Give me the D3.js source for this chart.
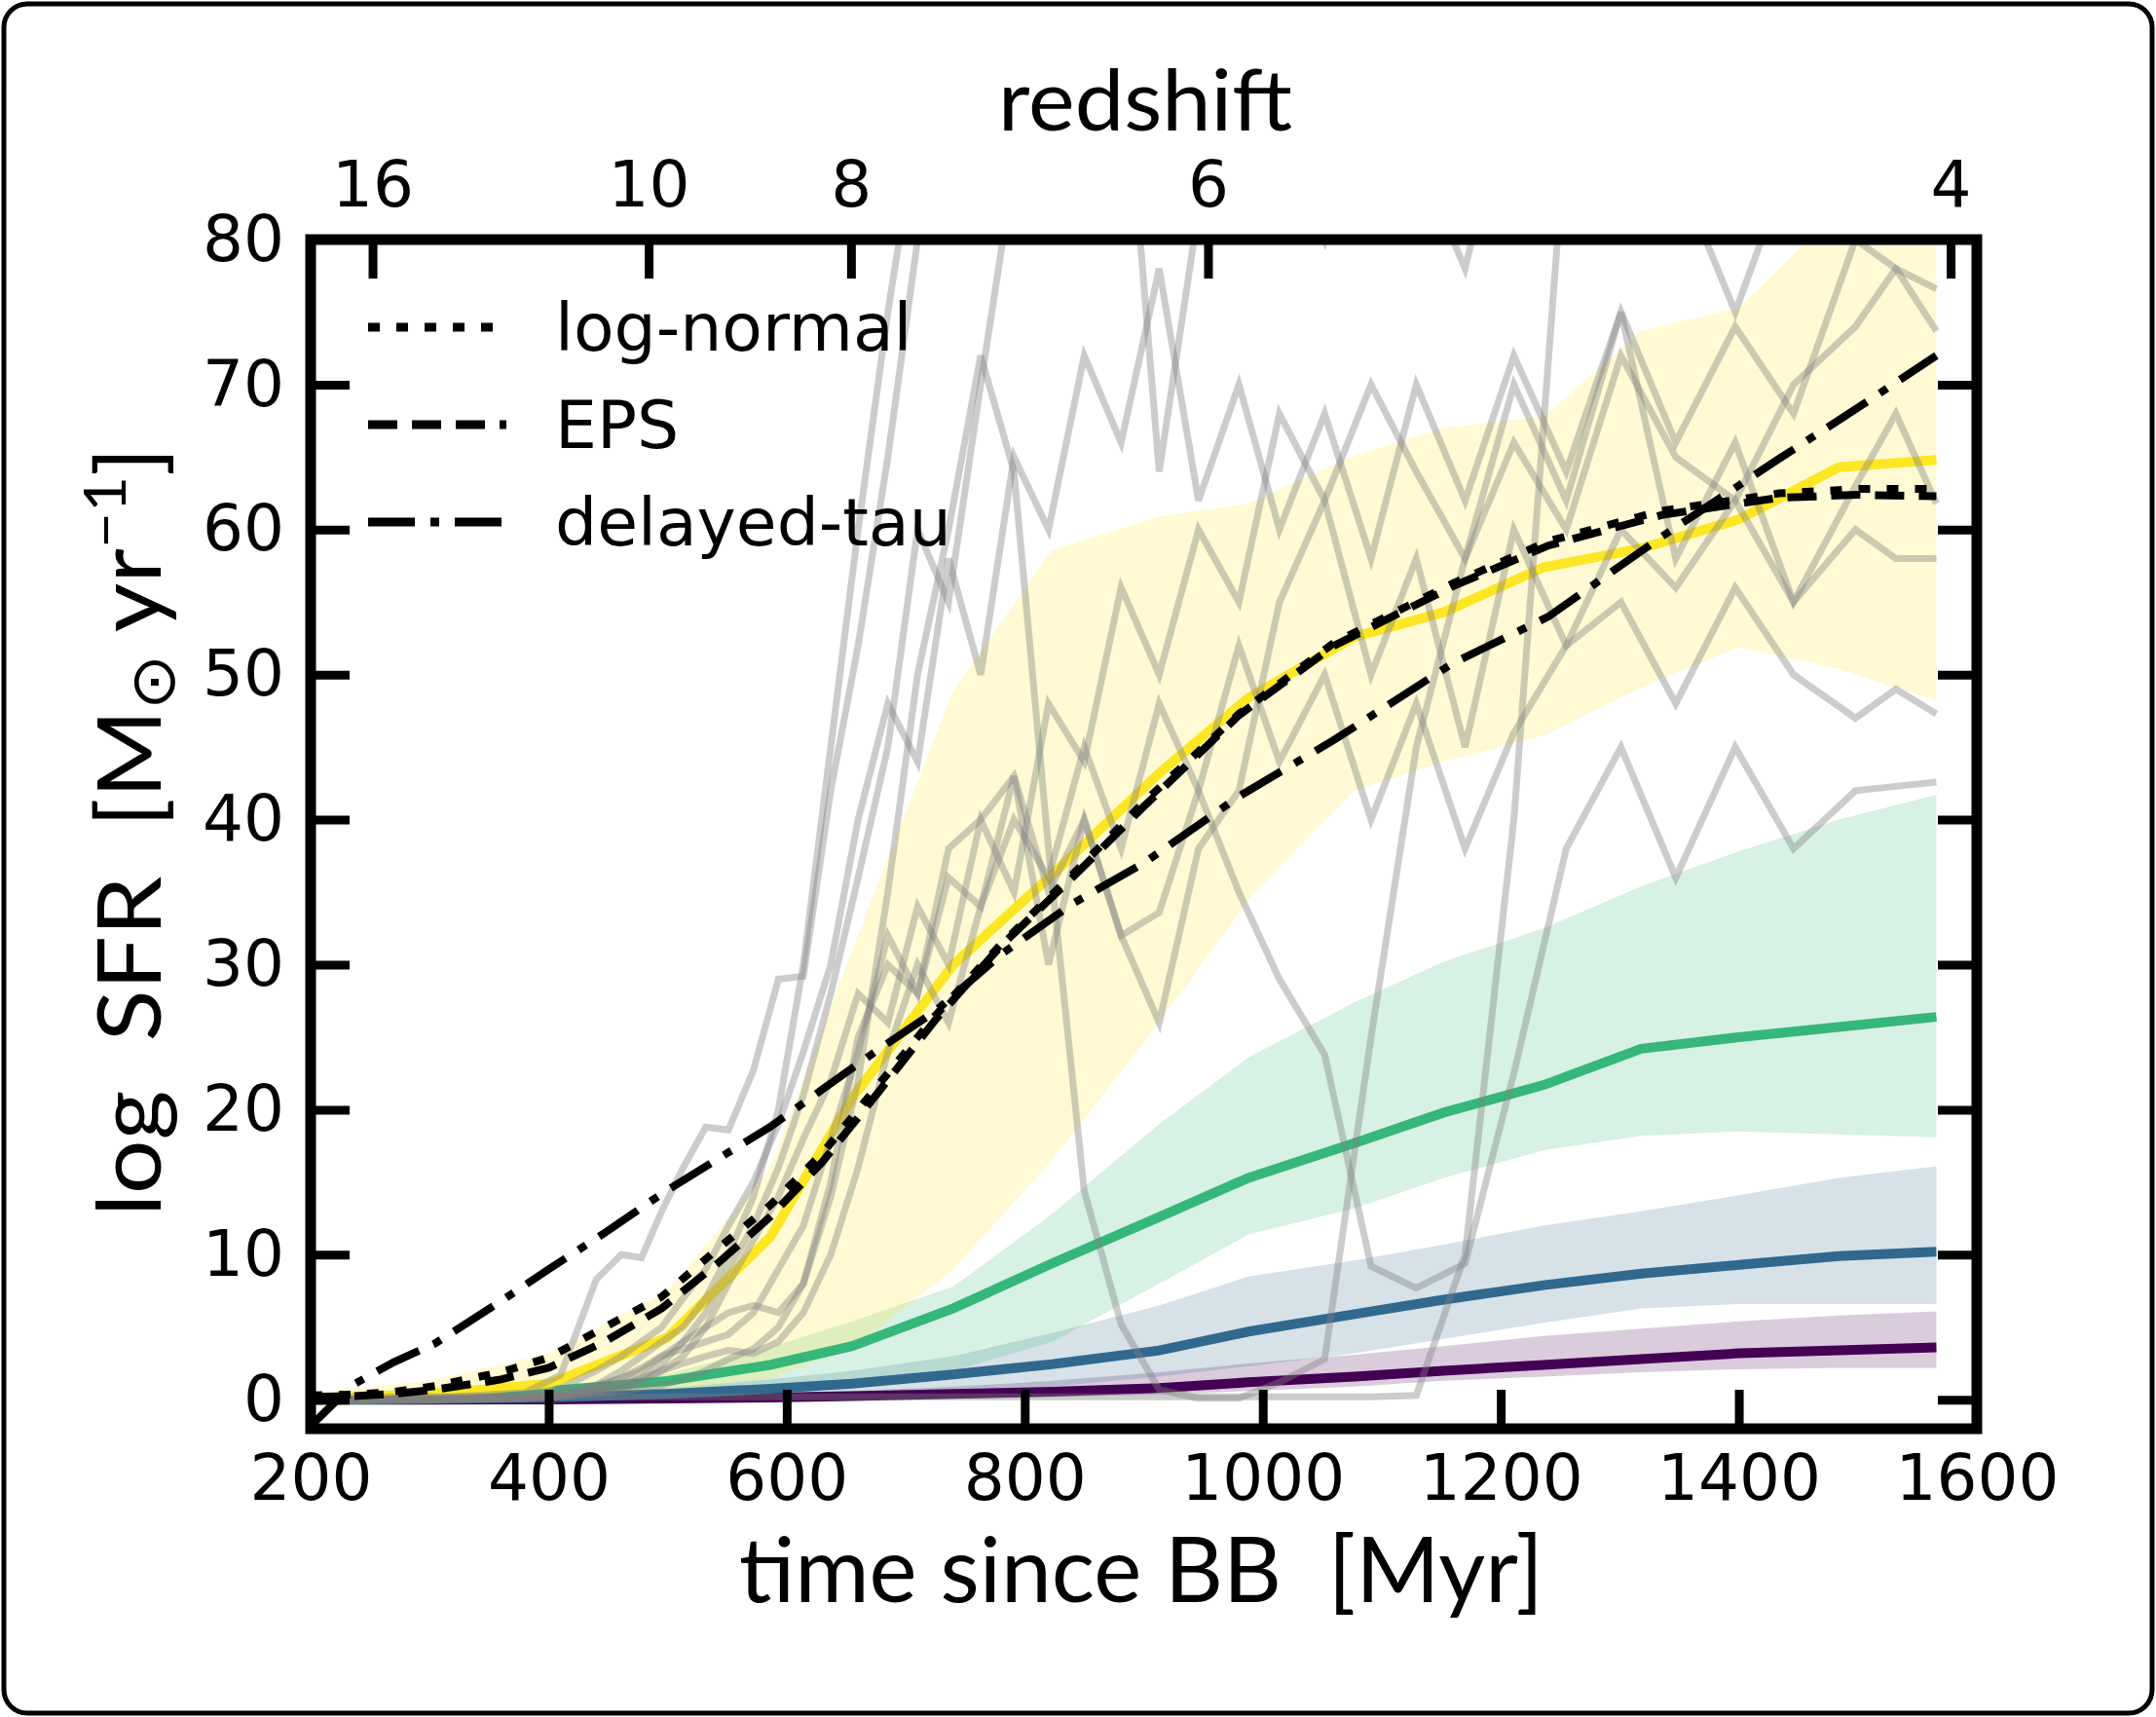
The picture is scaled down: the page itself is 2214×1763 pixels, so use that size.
<!DOCTYPE html>
<html>
<head>
<meta charset="utf-8">
<script src="https://cdn.jsdelivr.net/npm/d3@7"></script>
<style>
  body { margin: 0; background: #fff; }
  text { font-family: "DejaVu Sans", sans-serif; }
  .title { font-family: Lato, "Open Sans", sans-serif; white-space: pre; }
</style>
</head>
<body>
<svg id="chart" width="2214" height="1763"></svg>
<script>
// ---- data ----
// time grid of the population means / bands (Myr since big bang)
const meanTimes = [200, 300, 400, 500, 586, 655, 740, 823, 913, 988, 1077, 1152, 1236, 1318, 1400, 1484, 1566]

const yellowMean = [0.1, 0.4, 1.1, 4.3, 11.2, 20.8, 30.0, 36.2, 43.2, 48.4, 52.6, 54.3, 57.4, 58.7, 60.7, 64.3, 64.8]
const yellowLo   = [0, 0.1, 0.4, 0.6, 1.5, 3.5, 9.0, 16.5, 26.0, 34.5, 42.0, 44.0, 45.8, 49.1, 51.9, 50.4, 48.2]
const yellowHi   = [0.5, 1.3, 3.2, 7.5, 16.0, 31.0, 48.9, 58.6, 60.9, 61.8, 65.1, 67.0, 67.8, 73.7, 75.3, 82, 82]

const greenMean = [0, 0.1, 0.6, 1.3, 2.4, 3.7, 6.3, 9.4, 12.6, 15.3, 17.7, 19.8, 21.7, 24.2, 25.0, 25.7, 26.4]
const greenLo   = [0, 0, 0.1, 0.3, 0.5, 1.0, 2.0, 4.0, 8.0, 11.4, 13.2, 15.3, 17.2, 18.2, 18.5, 18.3, 18.1]
const greenHi   = [0, 0.2, 0.6, 1.8, 3.6, 5.4, 7.8, 12.8, 19.0, 23.6, 27.4, 30.2, 32.5, 35.4, 37.8, 40.0, 41.7]

const blueMean = [0, 0.05, 0.15, 0.4, 0.75, 1.1, 1.75, 2.45, 3.4, 4.7, 5.9, 6.9, 7.9, 8.7, 9.3, 9.9, 10.2]
const blueLo   = [0, 0, 0.05, 0.1, 0.2, 0.3, 0.55, 0.9, 1.6, 2.3, 3.2, 4.2, 5.3, 6.3, 6.6, 6.6, 6.6]
const blueHi   = [0, 0.1, 0.4, 0.8, 1.4, 2.0, 3.0, 4.6, 6.5, 8.5, 9.6, 10.7, 12.0, 13.0, 14.1, 15.3, 16.1]

const purpleMean = [0, 0, 0.02, 0.08, 0.15, 0.25, 0.4, 0.55, 0.8, 1.2, 1.6, 2.0, 2.4, 2.8, 3.2, 3.4, 3.6]
const purpleLo   = [0, 0, 0, 0.02, 0.05, 0.08, 0.12, 0.2, 0.35, 0.6, 0.9, 1.3, 1.6, 1.9, 2.1, 2.2, 2.2]
const purpleHi   = [0, 0, 0.1, 0.2, 0.4, 0.6, 0.9, 1.3, 1.9, 2.5, 3.1, 3.7, 4.4, 4.9, 5.4, 5.8, 6.1]

// analytic fits
const modelTimes = [200, 235, 270, 305, 360, 400, 447, 495, 542, 586, 630, 678, 725, 780, 840, 900, 980, 1060, 1160, 1240, 1335, 1434, 1500, 1566]
const logNormal  = [0.3, 0.35, 0.55, 0.95, 1.9, 2.9, 5.0, 7.1, 10.4, 13.4, 17.0, 21.8, 26.5, 31.4, 36.2, 41.2, 47.3, 52.2, 56.3, 59.2, 61.3, 62.5, 62.8, 62.8]
const eps        = [0.2, 0.25, 0.4, 0.7, 1.4, 2.2, 4.0, 6.3, 9.4, 12.6, 16.4, 21.3, 26.2, 31.3, 36.0, 40.9, 47.2, 52.0, 56.1, 58.9, 61.0, 62.2, 62.4, 62.3]
const delayedTau = [-1.8, 1.0, 2.6, 3.9, 6.8, 9.0, 11.5, 14.2, 16.6, 18.8, 21.4, 24.2, 26.8, 30.7, 34.2, 37.0, 41.6, 45.5, 50.8, 54.0, 59.5, 64.9, 68.4, 72.0]

// individual galaxies (grey)
const grayTimes = [200, 300, 380, 410, 440, 461, 478, 495, 513, 532, 551, 572, 593, 614, 637, 660, 685, 710, 736, 763, 791, 820, 850, 881, 913, 946, 980, 1014, 1052, 1091, 1129, 1170, 1211, 1255, 1301, 1347, 1397, 1446, 1498, 1532, 1566]
const gal1  = [0.2, 0.2, 0.2, 0.2, 0.2, 0.2, 0.2, 0.2, 0.2, 0.2, 0.2, 0.2, 0.2, 0.2, 0.2, 0.2, 0.2, 0.2, 0.2, 0.2, 0.2, 0.2, 0.2, 0.2, 0.2, 0.2, 0.2, 0.2, 0.2, 0.2, 0.3, 10, 40, 88, 95, 85, 75, 86, 92, 85, 90]
const gal2  = [0, 0.1, 0.5, 1.7, 8.3, 10, 9.8, 13, 16, 18.8, 18.6, 22.7, 29, 29.2, 42, 52, 65, 80, 95, 90, 100, 95, 88, 96, 64, 82, 95, 90, 100, 92, 85, 96, 90, 100, 92, 88, 95, 86, 95, 90, 88]
const gal3  = [0, 0, 0.1, 0.2, 0.4, 0.6, 0.8, 1.0, 1.4, 2.0, 2.8, 3.5, 5.0, 8, 14, 22, 35, 50, 60, 72, 64, 38, 14.4, 5.2, 0.7, 0.1, 0.1, 1.2, 2.8, 25, 45, 58, 70, 62, 75, 58, 66, 55, 63, 68, 61.8]
const gal4  = [0, 0, 0.1, 0.3, 0.6, 1.0, 1.5, 2.0, 2.5, 3.0, 3.4, 3.2, 4.0, 6, 10, 16, 24, 30, 26, 34, 40, 36, 45, 38, 48, 42, 35, 29, 23.8, 9.2, 7.7, 9.4, 22.5, 38, 45, 36, 45, 38, 42, 42.3, 42.6]
const gal5  = [0, 0, 0.2, 0.5, 1, 1.5, 2, 3, 4, 5, 6, 6.5, 6, 8, 15, 25, 30, 28, 36, 34, 43, 30, 40, 32, 26, 38, 42, 55, 62, 50, 58, 45, 60, 52, 55, 48, 56, 50, 47, 49, 47.3]
const gal6  = [0, 0.1, 0.3, 0.8, 2, 3, 4, 5, 7, 9, 12, 15, 19, 24, 30, 40, 48, 44, 58, 50, 65, 60, 72, 66, 78, 62, 70, 60, 68, 58, 70, 62, 72, 64, 75, 66, 74, 68, 80, 78, 73.7]
const gal7  = [0, 0, 0.1, 0.3, 0.6, 1, 1.5, 2.5, 4, 6, 9, 12, 16, 21, 28, 36, 45, 60, 55, 70, 85, 95, 88, 100, 90, 82, 95, 88, 80, 92, 86, 78, 92, 85, 95, 88, 98, 90, 85, 88, 90]
const gal8  = [0, 0, 0.1, 0.2, 0.5, 0.8, 1.2, 2, 3, 5, 8, 11, 14, 18, 22, 28, 26, 34, 30, 40, 35, 48, 44, 56, 50, 60, 55, 68, 62, 70, 64, 58, 66, 60, 72, 65, 62, 70, 74, 78, 76.6]
const gal9  = [0, 0, 0.1, 0.4, 1, 2, 3, 4, 5, 7, 10, 14, 20, 30, 45, 60, 75, 88, 95, 80, 92, 85, 98, 88, 94, 100, 90, 95, 85, 92, 98, 88, 95, 90, 97, 88, 93, 99, 90, 95, 92]
const gal10 = [0, 0, 0.1, 0.3, 0.8, 1.5, 2.2, 3, 3.5, 4, 4.5, 6, 9, 12, 18, 24, 32, 28, 38, 40, 43, 35, 40, 32, 33.6, 42, 52, 44, 50, 40, 48, 38, 46, 52, 60, 56, 62, 55, 60, 58, 58]

// axes
const xTicks = [200, 400, 600, 800, 1000, 1200, 1400, 1600]
const yTicks = [0, 10, 20, 30, 40, 50, 60, 70, 80]
const redshiftLabels = ['16', '10', '8', '6', '4']
const redshiftTimes = [252, 484, 654, 954, 1578]

const legendNames = ['log-normal', 'EPS', 'delayed-tau']

// ---- drawing ----
const svg = d3.select('#chart')
const plotLeft = 319, plotRight = 2030, plotTop = 246, plotBottom = 1467

const x = d3.scaleLinear().domain([200, 1600]).range([plotLeft, plotRight])
const y = d3.scaleLinear().domain([-2, 80]).range([plotBottom, plotTop])

// outer rounded frame
svg.append('rect')
  .attr('x', 4).attr('y', 4).attr('width', 2206).attr('height', 1755)
  .attr('rx', 24).attr('fill', 'none').attr('stroke', 'black').attr('stroke-width', 5)

svg.append('clipPath').attr('id', 'plotclip')
  .append('rect').attr('x', plotLeft).attr('y', plotTop)
  .attr('width', plotRight - plotLeft).attr('height', plotBottom - plotTop)

const plot = svg.append('g').attr('clip-path', 'url(#plotclip)')

const bands = [
  { lo: purpleLo, hi: purpleHi, color: '#440154' },
  { lo: blueLo, hi: blueHi, color: '#31688e' },
  { lo: greenLo, hi: greenHi, color: '#35b779' },
  { lo: yellowLo, hi: yellowHi, color: '#fde725' }
]
const area = d3.area()
  .x(d => x(d.t))
  .y0(d => y(d.lo))
  .y1(d => y(d.hi))

bands.forEach(b => {
  const rows = meanTimes.map((t, i) => ({ t: t, lo: b.lo[i], hi: b.hi[i] }))
  plot.append('path')
    .attr('d', area(rows))
    .attr('fill', b.color)
    .attr('opacity', 0.2)
})

const line = d3.line().x(d => x(d[0])).y(d => y(d[1]))

const means = [
  { v: purpleMean, color: '#440154' },
  { v: blueMean, color: '#31688e' },
  { v: greenMean, color: '#35b779' },
  { v: yellowMean, color: '#fde725' }
]
means.forEach(m => {
  plot.append('path')
    .attr('d', line(meanTimes.map((t, i) => [t, m.v[i]])))
    .attr('fill', 'none')
    .attr('stroke', m.color)
    .attr('stroke-width', 10)
})

// grey individual histories
const galaxies = [gal1, gal2, gal3, gal4, gal5, gal6, gal7, gal8, gal9, gal10]
galaxies.forEach(g => {
  plot.append('path')
    .attr('d', line(grayTimes.map((t, i) => [t, g[i]])))
    .attr('fill', 'none')
    .attr('stroke', 'gray')
    .attr('stroke-opacity', 0.4)
    .attr('stroke-width', 7)
})

// model curves
const models = [
  { v: logNormal, dash: '12,17' },
  { v: eps, dash: '30,15' },
  { v: delayedTau, dash: '48,16,9,16' }
]
models.forEach(m => {
  plot.append('path')
    .attr('d', line(modelTimes.map((t, i) => [t, m.v[i]])))
    .attr('fill', 'none')
    .attr('stroke', 'black')
    .attr('stroke-width', 8)
    .attr('stroke-dasharray', m.dash)
})

// axes, ticks pointing inward
const tickLen = 40
function styleAxis(g) {
  g.select('.domain').remove()
  g.selectAll('.tick line').attr('stroke', 'black').attr('stroke-width', 9)
  g.selectAll('.tick text').attr('font-size', 66).attr('fill', 'black')
    .style('font-family', '"DejaVu Sans", sans-serif')
}

svg.append('g').attr('transform', `translate(0,${plotBottom})`)
  .call(d3.axisBottom(x).tickValues(xTicks).tickFormat(d3.format('d')).tickSize(-tickLen).tickPadding(26))
  .call(styleAxis)

svg.append('g').attr('transform', `translate(${plotLeft},0)`)
  .call(d3.axisLeft(y).tickValues(yTicks).tickSize(-tickLen).tickPadding(27))
  .call(styleAxis)

svg.append('g').attr('transform', `translate(${plotRight},0)`)
  .call(d3.axisRight(y).tickValues(yTicks).tickSize(-tickLen).tickFormat(''))
  .call(styleAxis)

svg.append('g').attr('transform', `translate(0,${plotTop})`)
  .call(d3.axisTop(x).tickValues(redshiftTimes).tickFormat((d, i) => redshiftLabels[i]).tickSize(-tickLen).tickPadding(34))
  .call(styleAxis)

// spines
svg.append('rect')
  .attr('x', plotLeft).attr('y', plotTop)
  .attr('width', plotRight - plotLeft).attr('height', plotBottom - plotTop)
  .attr('fill', 'none').attr('stroke', 'black').attr('stroke-width', 11)

// legend
const legend = svg.append('g')
legendNames.forEach((name, i) => {
  const ly = 336 + i * 100
  legend.append('line')
    .attr('x1', 378).attr('x2', 520).attr('y1', ly).attr('y2', ly)
    .attr('stroke', 'black').attr('stroke-width', 9)
    .attr('stroke-dasharray', models[i].dash)
  legend.append('text')
    .attr('x', 570).attr('y', ly).attr('dy', '0.35em')
    .attr('font-size', 68)
    .text(name)
})

// axis titles
svg.append('text').attr('class', 'title')
  .attr('x', 1176).attr('y', 134).attr('text-anchor', 'middle')
  .attr('font-size', 88).attr('textLength', 302).attr('lengthAdjust', 'spacingAndGlyphs')
  .text('redshift')

svg.append('text').attr('class', 'title')
  .attr('x', 1172).attr('y', 1645).attr('text-anchor', 'middle')
  .attr('font-size', 94).attr('textLength', 826).attr('lengthAdjust', 'spacingAndGlyphs')
  .text('time since BB  [Myr]')

// y title: built from tspans, then stretched to the measured length of the original
const ylabHolder = svg.append('g').attr('transform', 'translate(165,854) rotate(-90)')
const ylab = ylabHolder.append('text').attr('class', 'title')
  .attr('text-anchor', 'middle')
  .attr('font-size', 92)
ylab.append('tspan').text('log  SFR  [M')
ylab.append('tspan').attr('font-size', 64).attr('dy', 14).text('\u2299')
ylab.append('tspan').attr('dy', -14).text(' yr')
ylab.append('tspan').attr('font-size', 60).attr('dy', -36).text('\u22121')
ylab.append('tspan').attr('dy', 36).text(']')
const ylabLen = ylab.node().getComputedTextLength()
if (ylabLen > 0) ylab.attr('transform', `scale(${791 / ylabLen},1)`)
</script>
</body>
</html>
